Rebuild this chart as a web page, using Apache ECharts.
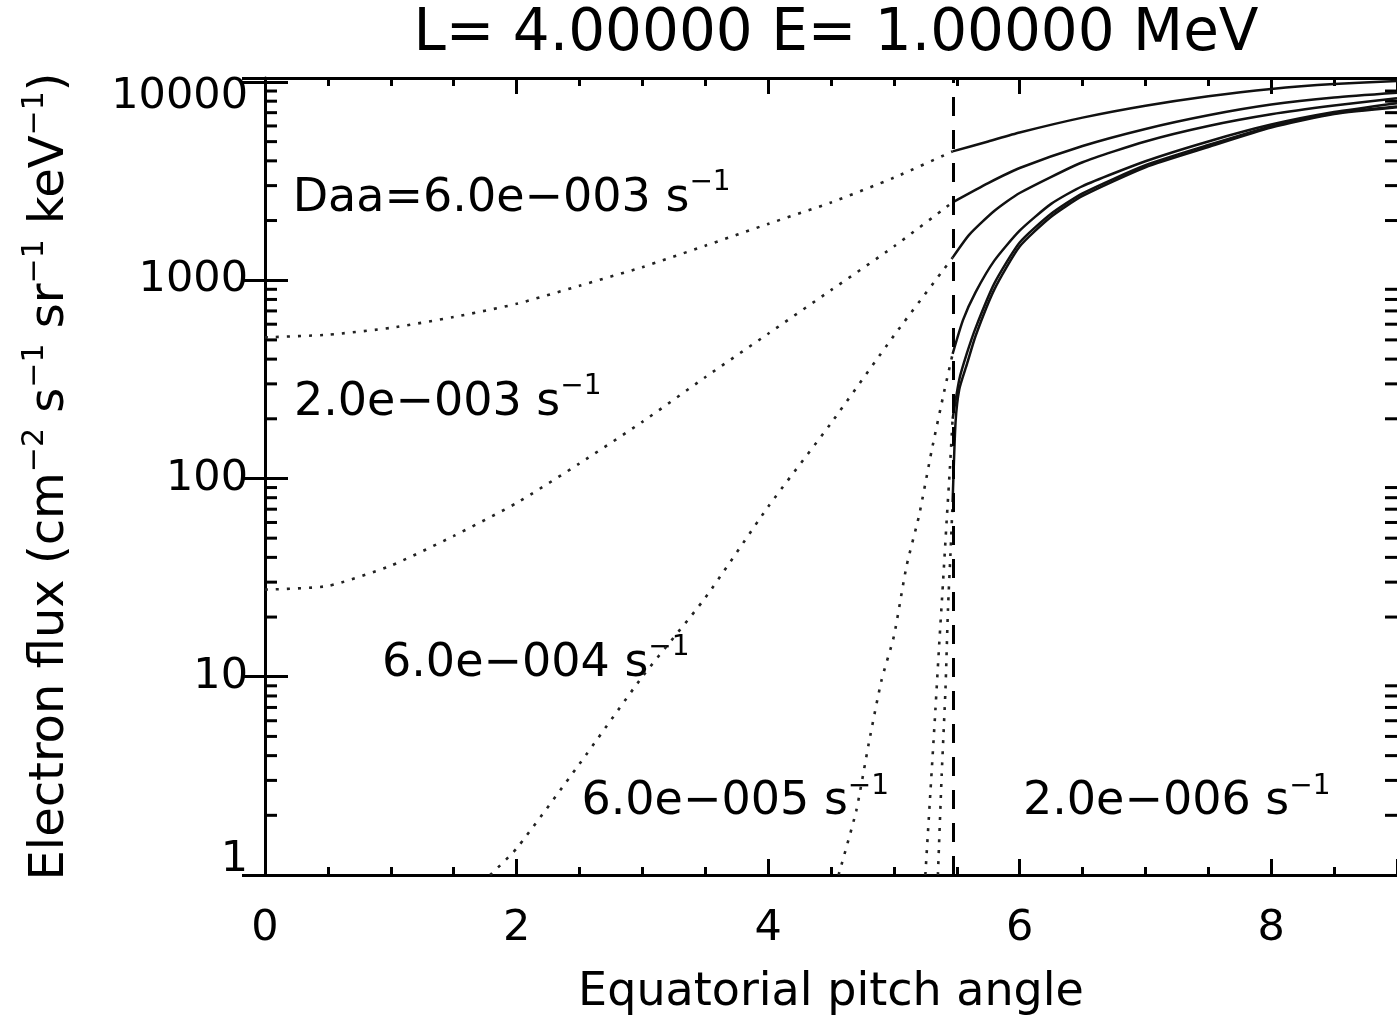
<!DOCTYPE html>
<html>
<head>
<meta charset="utf-8">
<title>Electron flux vs equatorial pitch angle</title>
<script src="https://cdn.jsdelivr.net/npm/echarts@6/dist/echarts.min.js"></script>
<style>
  html, body { margin: 0; padding: 0; background: #fff; }
  #chart { width: 1397px; height: 1021px; }
</style>
</head>
<body>
<div id="chart"></div>
<script>
// loss cone edge and axis limits
var lossCone = 5.467;
var xMax = 9;
var yMin = 1;
var yMax = 10470;

// flux curves [pitch angle, flux]; "In" = inside loss cone (dotted), "Out" = outside (solid)
var d6e3In  = [[0, 515], [0.5, 531], [1, 575], [1.5, 652], [2, 760], [2.5, 938], [3, 1164], [3.5, 1493], [4, 1923], [4.5, 2466], [5, 3289], [5.467, 4467]];
var d6e3Out = [[5.467, 4467], [5.75, 5012], [6, 5559], [6.5, 6607], [7, 7586], [7.5, 8472], [8, 9226], [8.5, 9772], [9, 10116]];
var d2e3In  = [[0, 27.5], [0.5, 28.7], [1, 36.3], [1.5, 51.3], [2, 75.2], [2.5, 119], [3, 193], [3.5, 324], [4, 537], [4.5, 891], [5, 1479], [5.467, 2472]];
var d2e3Out = [[5.467, 2472], [5.75, 3090], [6, 3681], [6.5, 4753], [7, 5794], [7.5, 6792], [8, 7691], [8.5, 8356], [9, 8831]];
var d6e4In  = [[1.79, 1], [2, 1.36], [2.5, 3.63], [3, 10], [3.5, 25], [4, 72], [4.5, 190], [5, 525], [5.467, 1300]];
var d6e4Out = [[5.467, 1300], [5.6, 1698], [5.8, 2239], [6, 2754], [6.5, 3936], [7, 5012], [7.5, 5998], [8, 6871], [8.5, 7603], [9, 8279]];
var d6e5In  = [[4.56, 1], [4.7, 2.1], [4.8, 4.6], [4.9, 9.5], [5, 16], [5.1, 36], [5.2, 65], [5.3, 138], [5.4, 275], [5.467, 425]];
var d6e5Out = [[5.467, 425], [5.55, 631], [5.65, 871], [5.8, 1259], [6, 1778], [6.25, 2427], [6.5, 2985], [7, 3981], [7.5, 5012], [8, 6095], [8.5, 7047], [9, 7816]];
var d2e5In  = [[5.25, 1], [5.29, 2.6], [5.33, 6.8], [5.36, 14.5], [5.39, 29.5], [5.42, 62], [5.445, 112], [5.467, 200]];
var d2e5Out = [[5.467, 200], [5.52, 316], [5.58, 427], [5.65, 575], [5.8, 966], [6, 1549], [6.25, 2163], [6.5, 2742], [7, 3802], [7.5, 4808], [8, 5970], [8.5, 6950], [9, 7516]];
var d2e6In  = [[5.35, 1], [5.38, 3.2], [5.41, 8.6], [5.43, 22], [5.45, 42], [5.467, 76]];
var d2e6Out = [[5.467, 76], [5.49, 191], [5.52, 282], [5.58, 376], [5.65, 525], [5.8, 902], [6, 1479], [6.25, 2089], [6.5, 2661], [7, 3715], [7.5, 4699], [8, 5888], [8.5, 6887], [9, 7447]];

var curves = [
  [d6e3In, d6e3Out], [d2e3In, d2e3Out], [d6e4In, d6e4Out],
  [d6e5In, d6e5Out], [d2e5In, d2e5Out], [d2e6In, d2e6Out]
];

// curve annotations
var noteText = ['Daa=6.0e\u2212003 s', '2.0e\u2212003 s', '6.0e\u2212004 s', '6.0e\u2212005 s', '2.0e\u2212006 s'];
var noteAt = [[0.22, 2566], [0.23, 241], [0.93, 11.65], [2.516, 2.32], [6.026, 2.32]];

// log minor ticks on the y axes
var yMinorTicks = [2, 3, 4, 5, 6, 7, 8, 9, 20, 30, 40, 50, 60, 70, 80, 90,
  200, 300, 400, 500, 600, 700, 800, 900, 2000, 3000, 4000, 5000, 6000, 7000, 8000, 9000];

var FONT = 'DejaVu Sans';
var BLACK = '#000';

var chart = echarts.init(document.getElementById('chart'), null, { renderer: 'canvas' });

function xAxisDef(pos, interval, len, main) {
  return {
    type: 'value', position: pos, min: 0, max: xMax, interval: interval,
    axisLine: { show: main, onZero: false, lineStyle: { color: BLACK, width: 3 } },
    axisTick: { show: true, inside: true, length: len, lineStyle: { color: BLACK, width: 3 } },
    axisLabel: { show: false },
    splitLine: { show: false }
  };
}

var xBottom = xAxisDef('bottom', 0.5, 8, true);
xBottom.axisLabel = {
  show: true, margin: 32, color: BLACK, fontFamily: FONT, fontSize: 43,
  showMaxLabel: false,
  formatter: function (v) { return v % 2 === 0 ? String(v) : ''; }
};
xBottom.name = 'Equatorial pitch angle';
xBottom.nameLocation = 'middle';
xBottom.nameGap = 95;
xBottom.nameTextStyle = { color: BLACK, fontFamily: FONT, fontSize: 46 };

var series = [];
curves.forEach(function (c) {
  series.push({
    type: 'line', data: c[0], symbol: 'none', silent: true, smooth: 0.2,
    lineStyle: { color: '#222', width: 2.6, type: [3, 8] }
  });
  series.push({
    type: 'line', data: c[1], symbol: 'none', silent: true, smooth: 0.2,
    lineStyle: { color: '#111', width: 2.5 }
  });
});

series[0].markLine = {
  silent: true, symbol: ['none', 'none'], label: { show: false },
  lineStyle: { color: BLACK, width: 3, type: [19, 14] },
  data: [{ xAxis: lossCone }]
};

series.push({
  type: 'custom', silent: true, clip: false,
  data: yMinorTicks.map(function (v) { return [0, v]; }),
  encode: { x: 0, y: 1 },
  renderItem: function (params, api) {
    var v = api.value(1);
    var a = api.coord([0, v]);
    var b = api.coord([xMax, v]);
    return {
      type: 'group',
      children: [
        { type: 'line', shape: { x1: a[0], y1: a[1], x2: a[0] + 12, y2: a[1] }, style: { stroke: BLACK, lineWidth: 3 } },
        { type: 'line', shape: { x1: b[0], y1: b[1], x2: b[0] - 12, y2: b[1] }, style: { stroke: BLACK, lineWidth: 3 } }
      ]
    };
  }
});

series.push({
  type: 'scatter', symbolSize: 0, silent: true,
  itemStyle: { opacity: 1 },
  data: noteAt.map(function (p, i) { return { value: p, name: noteText[i] }; }),
  label: {
    show: true, position: 'right', distance: 0, color: BLACK,
    formatter: function (p) { return '{m|' + p.name + '}{sup|\u22121}'; },
    rich: {
      m: { fontFamily: FONT, fontSize: 46, lineHeight: 60, color: BLACK },
      sup: { fontFamily: FONT, fontSize: 28, lineHeight: 28, color: BLACK, verticalAlign: 'top' }
    }
  }
});

chart.setOption({
  animation: false,
  backgroundColor: '#fff',
  textStyle: { fontFamily: FONT },
  title: {
    text: 'L= 4.00000 E= 1.00000 MeV',
    left: 831, top: 1, textAlign: 'center',
    textStyle: { fontFamily: FONT, fontSize: 58, fontWeight: 'normal', color: BLACK }
  },
  grid: { left: 265, right: 0, top: 78, bottom: 140 },
  xAxis: [
    xBottom,
    xAxisDef('bottom', 2, 16, false),
    xAxisDef('top', 0.5, 8, true),
    xAxisDef('top', 2, 16, false)
  ],
  yAxis: [
    {
      type: 'log', logBase: 10, min: yMin, max: yMax, position: 'left',
      axisLine: { show: true, onZero: false, lineStyle: { color: BLACK, width: 3 } },
      axisTick: { show: true, inside: true, length: 23, lineStyle: { color: BLACK, width: 3 } },
      splitLine: { show: false },
      axisLabel: {
        margin: 17, color: BLACK, fontFamily: FONT, fontSize: 43,
        formatter: function (v) {
          var e = Math.log(v) / Math.LN10;
          if (Math.abs(e - Math.round(e)) > 1e-6) return '';
          var s = String(Math.round(v));
          if (s === '1') return '{lo|1}';
          if (s === '10000') return '{hi|10000}';
          return s;
        },
        rich: {
          lo: { fontFamily: FONT, fontSize: 43, color: BLACK, padding: [0, 0, 30, 0] },
          hi: { fontFamily: FONT, fontSize: 43, color: BLACK, padding: [30, 0, 0, 0] }
        }
      },
      name: 'Electron flux (cm{sup|\u22122} s{sup|\u22121} sr{sup|\u22121} keV{sup|\u22121})',
      nameLocation: 'middle', nameRotate: 90, nameGap: 183,
      nameTextStyle: {
        color: BLACK, fontFamily: FONT, fontSize: 48, lineHeight: 62,
        rich: { sup: { fontFamily: FONT, fontSize: 30, lineHeight: 30, color: BLACK, verticalAlign: 'top' } }
      }
    },
    {
      type: 'log', logBase: 10, min: yMin, max: yMax, position: 'right',
      axisLine: { show: false },
      axisTick: { show: true, inside: true, length: 23, lineStyle: { color: BLACK, width: 3 } },
      axisLabel: { show: false },
      splitLine: { show: false }
    }
  ],
  series: series
});
</script>
</body>
</html>
